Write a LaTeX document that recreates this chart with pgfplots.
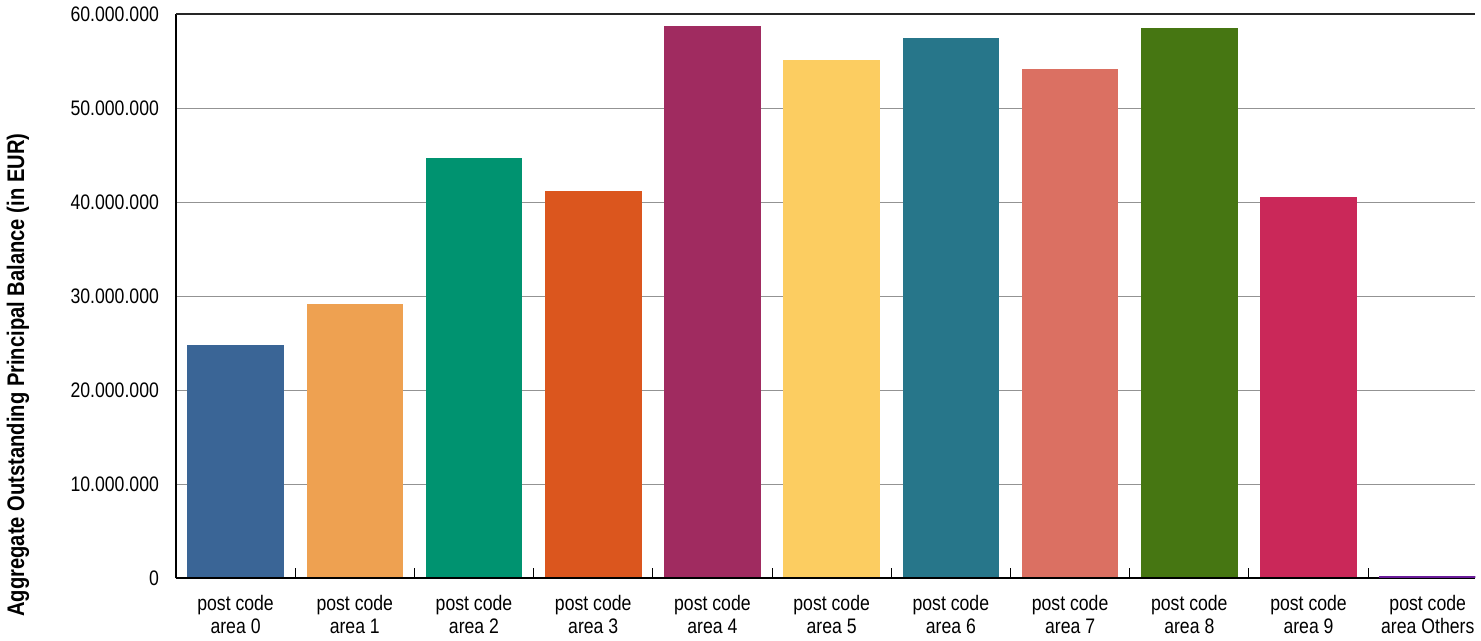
\documentclass[border=0pt]{standalone}
\usepackage{fontspec}
\setmainfont{Liberation Sans}[FakeStretch=0.84]
\usepackage{pgfplots}
\pgfplotsset{compat=1.18}

\definecolor{c0}{HTML}{3A6596}
\definecolor{c1}{HTML}{EEA151}
\definecolor{c2}{HTML}{009370}
\definecolor{c3}{HTML}{DB561E}
\definecolor{c4}{HTML}{A02B60}
\definecolor{c5}{HTML}{FCCD61}
\definecolor{c6}{HTML}{27768A}
\definecolor{c7}{HTML}{DB7062}
\definecolor{c8}{HTML}{467612}
\definecolor{c9}{HTML}{CA2859}
\definecolor{c10}{HTML}{6A1B9A}

\begin{document}
\begin{tikzpicture}
\begin{axis}[
    scale only axis,
    width=649.5pt, height=282pt,
    xmin=-0.5, xmax=10.4,
    ymin=0, ymax=60000000,
    ybar, bar width=0.81,
    axis x line*=bottom, axis y line*=left,
    x axis line style={line width=1.2pt, -},
    y axis line style={line width=0.8pt, -},
    ytick={0,10000000,20000000,30000000,40000000,50000000,60000000},
    scaled y ticks=false,
    /pgf/number format/fixed,
    /pgf/number format/1000 sep={.},
    /pgf/number format/assume math mode=true,
    yticklabel style={font=\fontsize{10.5}{12}\selectfont, xshift=-5pt},
    ymajorgrids, grid style={gray!85, line width=0.5pt},
    extra y ticks={60000000}, extra y tick labels={},
    extra y tick style={grid style={black!85, line width=0.8pt}},
    major tick length=0pt,
    tick align=inside,
    xtick={0,1,2,3,4,5,6,7,8,9,10},
    xticklabels={{post code\\area 0},{post code\\area 1},{post code\\area 2},{post code\\area 3},{post code\\area 4},{post code\\area 5},{post code\\area 6},{post code\\area 7},{post code\\area 8},{post code\\area 9},{post code\\area Others}},
    xticklabel style={align=center, font=\fontsize{10.5}{11.5}\selectfont, yshift=-5pt},
    extra x ticks={0.5,1.5,2.5,3.5,4.5,5.5,6.5,7.5,8.5,9.5},
    extra x tick labels={},
    extra x tick style={major tick length=5pt, tick style={black, line width=0.5pt}, grid=none},
    ylabel={Aggregate Outstanding Principal Balance (in EUR)},
    ylabel style={font=\bfseries\fontsize{12}{14}\selectfont, at={(axis description cs:0,0.36)}, anchor=center, yshift=79pt},
    every axis plot/.append style={draw=none, bar shift=0pt},
]
\addplot[fill=c0] coordinates {(0,24790000)};
\addplot[fill=c1] coordinates {(1,29150000)};
\addplot[fill=c2] coordinates {(2,44680000)};
\addplot[fill=c3] coordinates {(3,41170000)};
\addplot[fill=c4] coordinates {(4,58720000)};
\addplot[fill=c5] coordinates {(5,55100000)};
\addplot[fill=c6] coordinates {(6,57450000)};
\addplot[fill=c7] coordinates {(7,54150000)};
\addplot[fill=c8] coordinates {(8,58500000)};
\addplot[fill=c9] coordinates {(9,40530000)};
% baseline over the bars
\draw[black, line width=1.2pt] (rel axis cs:0,0) -- (rel axis cs:1,0);
\addplot[fill=c10] coordinates {(10,220000)};
\end{axis}
\end{tikzpicture}
\end{document}
